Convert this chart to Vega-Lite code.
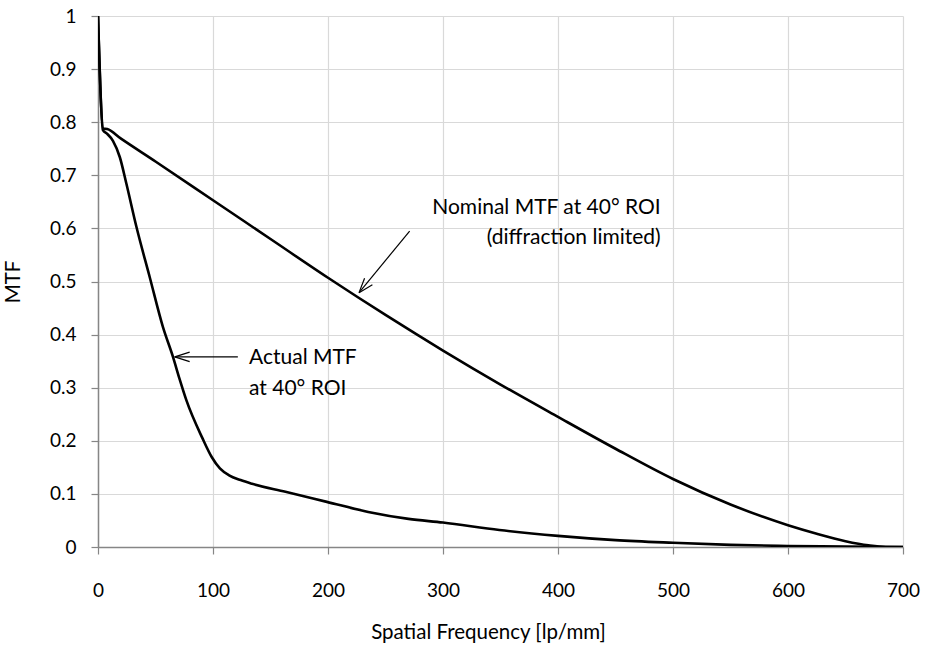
{
  "$schema": "https://vega.github.io/schema/vega-lite/v6.json",
  "width": 805,
  "height": 531,
  "autosize": {"type": "none"},
  "padding": {"left": 98, "top": 16, "right": 23, "bottom": 103},
  "background": "white",
  "config": {
    "view": {"stroke": null},
    "font": "Lato",
    "axis": {
      "labelFont": "Lato",
      "titleFont": "Lato",
      "labelFontSize": 19,
      "titleFontSize": 20.5,
      "labelColor": "#000000",
      "titleColor": "#000000",
      "titleFontWeight": "normal",
      "gridColor": "#d9d9d9",
      "gridWidth": 1.2,
      "domainColor": "#868686",
      "domainWidth": 1.5,
      "tickColor": "#868686",
      "tickSize": 7,
      "tickWidth": 1.2
    }
  },
  "datasets": {
    "curves": [
      {"freq": 0, "mtf": 1, "series": "Nominal"},
      {"freq": 4.5, "mtf": 0.788, "series": "Nominal"},
      {"freq": 8, "mtf": 0.787, "series": "Nominal"},
      {"freq": 20, "mtf": 0.769, "series": "Nominal"},
      {"freq": 50, "mtf": 0.726, "series": "Nominal"},
      {"freq": 100, "mtf": 0.653, "series": "Nominal"},
      {"freq": 150, "mtf": 0.58, "series": "Nominal"},
      {"freq": 200, "mtf": 0.507, "series": "Nominal"},
      {"freq": 250, "mtf": 0.437, "series": "Nominal"},
      {"freq": 300, "mtf": 0.37, "series": "Nominal"},
      {"freq": 350, "mtf": 0.306, "series": "Nominal"},
      {"freq": 400, "mtf": 0.245, "series": "Nominal"},
      {"freq": 450, "mtf": 0.185, "series": "Nominal"},
      {"freq": 500, "mtf": 0.128, "series": "Nominal"},
      {"freq": 550, "mtf": 0.08, "series": "Nominal"},
      {"freq": 600, "mtf": 0.041, "series": "Nominal"},
      {"freq": 625, "mtf": 0.025, "series": "Nominal"},
      {"freq": 650, "mtf": 0.011, "series": "Nominal"},
      {"freq": 670, "mtf": 0.003, "series": "Nominal"},
      {"freq": 685, "mtf": 0, "series": "Nominal"},
      {"freq": 700, "mtf": 0, "series": "Nominal"},
      {"freq": 0, "mtf": 1, "series": "Actual"},
      {"freq": 4.3, "mtf": 0.785, "series": "Actual"},
      {"freq": 8, "mtf": 0.778, "series": "Actual"},
      {"freq": 13, "mtf": 0.765, "series": "Actual"},
      {"freq": 19, "mtf": 0.734, "series": "Actual"},
      {"freq": 24.7, "mtf": 0.684, "series": "Actual"},
      {"freq": 33.4, "mtf": 0.603, "series": "Actual"},
      {"freq": 45, "mtf": 0.508, "series": "Actual"},
      {"freq": 56.5, "mtf": 0.414, "series": "Actual"},
      {"freq": 65.2, "mtf": 0.358, "series": "Actual"},
      {"freq": 70.7, "mtf": 0.318, "series": "Actual"},
      {"freq": 76.9, "mtf": 0.276, "series": "Actual"},
      {"freq": 90.8, "mtf": 0.205, "series": "Actual"},
      {"freq": 99, "mtf": 0.169, "series": "Actual"},
      {"freq": 106, "mtf": 0.148, "series": "Actual"},
      {"freq": 114, "mtf": 0.135, "series": "Actual"},
      {"freq": 124, "mtf": 0.126, "series": "Actual"},
      {"freq": 134, "mtf": 0.119, "series": "Actual"},
      {"freq": 163, "mtf": 0.104, "series": "Actual"},
      {"freq": 199, "mtf": 0.085, "series": "Actual"},
      {"freq": 235, "mtf": 0.066, "series": "Actual"},
      {"freq": 270, "mtf": 0.053, "series": "Actual"},
      {"freq": 300, "mtf": 0.046, "series": "Actual"},
      {"freq": 349, "mtf": 0.032, "series": "Actual"},
      {"freq": 400, "mtf": 0.021, "series": "Actual"},
      {"freq": 450, "mtf": 0.013, "series": "Actual"},
      {"freq": 500, "mtf": 0.008, "series": "Actual"},
      {"freq": 550, "mtf": 0.004, "series": "Actual"},
      {"freq": 600, "mtf": 0.002, "series": "Actual"},
      {"freq": 650, "mtf": 0.001, "series": "Actual"},
      {"freq": 700, "mtf": 0, "series": "Actual"}
    ],
    "arrows": [
      {"x": 271, "y": 0.595, "x2": 227, "y2": 0.479},
      {"x": 227, "y": 0.479, "x2": 238.6, "y2": 0.494},
      {"x": 227, "y": 0.479, "x2": 231.8, "y2": 0.506},
      {"x": 121.6, "y": 0.358, "x2": 66.7, "y2": 0.358},
      {"x": 66.7, "y": 0.358, "x2": 79.7, "y2": 0.367},
      {"x": 66.7, "y": 0.358, "x2": 79.7, "y2": 0.349}
    ],
    "nominalText": [
      {"x": 489.3, "y": 0.638, "label": "Nominal MTF at 40° ROI"},
      {"x": 489.3, "y": 0.581, "label": "(diffraction limited)"}
    ],
    "actualText": [
      {"x": 131.3, "y": 0.355, "label": "Actual MTF"},
      {"x": 131.3, "y": 0.298, "label": "at 40° ROI"}
    ]
  },
  "layer": [
    {
      "data": {"name": "curves"},
      "mark": {"type": "line", "color": "#000000", "strokeWidth": 2.6, "interpolate": "monotone", "clip": true},
      "encoding": {
        "x": {
          "field": "freq", "type": "quantitative",
          "scale": {"domain": [0, 700], "nice": false, "zero": false},
          "axis": {
            "values": [0, 100, 200, 300, 400, 500, 600, 700],
            "title": "Spatial Frequency [lp/mm]",
            "labelPadding": 27,
            "titlePadding": 22,
            "titleX": 390,
            "labelFlush": false
          }
        },
        "y": {
          "field": "mtf", "type": "quantitative",
          "scale": {"domain": [0, 1], "nice": false},
          "axis": {
            "values": [0, 0.1, 0.2, 0.3, 0.4, 0.5, 0.6, 0.7, 0.8, 0.9, 1],
            "format": "~g",
            "title": "MTF",
            "labelPadding": 15,
            "titlePadding": 26,
            "labelFlush": false
          }
        },
        "detail": {"field": "series", "type": "nominal"}
      }
    },
    {
      "data": {"name": "arrows"},
      "mark": {"type": "rule", "color": "#000000", "strokeWidth": 1.2},
      "encoding": {
        "x": {"field": "x", "type": "quantitative"},
        "y": {"field": "y", "type": "quantitative"},
        "x2": {"field": "x2"},
        "y2": {"field": "y2"}
      }
    },
    {
      "data": {"name": "nominalText"},
      "mark": {"type": "text", "align": "right", "baseline": "middle", "font": "Lato", "fontSize": 21, "color": "#000000"},
      "encoding": {
        "x": {"field": "x", "type": "quantitative"},
        "y": {"field": "y", "type": "quantitative"},
        "text": {"field": "label"}
      }
    },
    {
      "data": {"name": "actualText"},
      "mark": {"type": "text", "align": "left", "baseline": "middle", "font": "Lato", "fontSize": 21, "color": "#000000"},
      "encoding": {
        "x": {"field": "x", "type": "quantitative"},
        "y": {"field": "y", "type": "quantitative"},
        "text": {"field": "label"}
      }
    }
  ]
}
